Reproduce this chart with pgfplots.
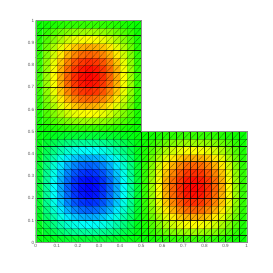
\documentclass[border=0pt]{standalone}
\usepackage{fontspec}
\setmainfont{Liberation Sans}
\usepackage{pgfplots}
\usepackage{pgfplotstable}
\pgfplotsset{compat=1.18}
\pgfplotstableread[row sep=\\]{
i j c\\
0 0 0.011\\1 0 0.032\\2 0 0.053\\3 0 0.070\\4 0 0.085\\5 0 0.096\\6 0 0.103\\7 0 0.105\\8 0 0.103\\9 0 0.096\\10 0 0.085\\11 0 0.070\\12 0 0.053\\13 0 0.032\\14 0 0.011\\
0 1 0.032\\1 1 0.095\\2 1 0.155\\3 1 0.207\\4 1 0.250\\5 1 0.282\\6 1 0.302\\7 1 0.309\\8 1 0.302\\9 1 0.282\\10 1 0.250\\11 1 0.207\\12 1 0.155\\13 1 0.095\\14 1 0.032\\
0 2 0.053\\1 2 0.155\\2 2 0.250\\3 2 0.335\\4 2 0.405\\5 2 0.457\\6 2 0.489\\7 2 0.500\\8 2 0.489\\9 2 0.457\\10 2 0.405\\11 2 0.335\\12 2 0.250\\13 2 0.155\\14 2 0.053\\
0 3 0.070\\1 3 0.207\\2 3 0.335\\3 3 0.448\\4 3 0.541\\5 3 0.611\\6 3 0.654\\7 3 0.669\\8 3 0.654\\9 3 0.611\\10 3 0.541\\11 3 0.448\\12 3 0.335\\13 3 0.207\\14 3 0.070\\
0 4 0.085\\1 4 0.250\\2 4 0.405\\3 4 0.541\\4 4 0.654\\5 4 0.739\\6 4 0.791\\7 4 0.809\\8 4 0.791\\9 4 0.739\\10 4 0.654\\11 4 0.541\\12 4 0.405\\13 4 0.250\\14 4 0.085\\
0 5 0.096\\1 5 0.282\\2 5 0.457\\3 5 0.611\\4 5 0.739\\5 5 0.835\\6 5 0.894\\7 5 0.914\\8 5 0.894\\9 5 0.835\\10 5 0.739\\11 5 0.611\\12 5 0.457\\13 5 0.282\\14 5 0.096\\
0 6 0.103\\1 6 0.302\\2 6 0.489\\3 6 0.654\\4 6 0.791\\5 6 0.894\\6 6 0.956\\7 6 0.978\\8 6 0.956\\9 6 0.894\\10 6 0.791\\11 6 0.654\\12 6 0.489\\13 6 0.302\\14 6 0.103\\
0 7 0.105\\1 7 0.309\\2 7 0.500\\3 7 0.669\\4 7 0.809\\5 7 0.914\\6 7 0.978\\7 7 1.000\\8 7 0.978\\9 7 0.914\\10 7 0.809\\11 7 0.669\\12 7 0.500\\13 7 0.309\\14 7 0.105\\
0 8 0.103\\1 8 0.302\\2 8 0.489\\3 8 0.654\\4 8 0.791\\5 8 0.894\\6 8 0.956\\7 8 0.978\\8 8 0.956\\9 8 0.894\\10 8 0.791\\11 8 0.654\\12 8 0.489\\13 8 0.302\\14 8 0.103\\
0 9 0.096\\1 9 0.282\\2 9 0.457\\3 9 0.611\\4 9 0.739\\5 9 0.835\\6 9 0.894\\7 9 0.914\\8 9 0.894\\9 9 0.835\\10 9 0.739\\11 9 0.611\\12 9 0.457\\13 9 0.282\\14 9 0.096\\
0 10 0.085\\1 10 0.250\\2 10 0.405\\3 10 0.541\\4 10 0.654\\5 10 0.739\\6 10 0.791\\7 10 0.809\\8 10 0.791\\9 10 0.739\\10 10 0.654\\11 10 0.541\\12 10 0.405\\13 10 0.250\\14 10 0.085\\
0 11 0.070\\1 11 0.207\\2 11 0.335\\3 11 0.448\\4 11 0.541\\5 11 0.611\\6 11 0.654\\7 11 0.669\\8 11 0.654\\9 11 0.611\\10 11 0.541\\11 11 0.448\\12 11 0.335\\13 11 0.207\\14 11 0.070\\
0 12 0.053\\1 12 0.155\\2 12 0.250\\3 12 0.335\\4 12 0.405\\5 12 0.457\\6 12 0.489\\7 12 0.500\\8 12 0.489\\9 12 0.457\\10 12 0.405\\11 12 0.335\\12 12 0.250\\13 12 0.155\\14 12 0.053\\
0 13 0.032\\1 13 0.095\\2 13 0.155\\3 13 0.207\\4 13 0.250\\5 13 0.282\\6 13 0.302\\7 13 0.309\\8 13 0.302\\9 13 0.282\\10 13 0.250\\11 13 0.207\\12 13 0.155\\13 13 0.095\\14 13 0.032\\
0 14 0.011\\1 14 0.032\\2 14 0.053\\3 14 0.070\\4 14 0.085\\5 14 0.096\\6 14 0.103\\7 14 0.105\\8 14 0.103\\9 14 0.096\\10 14 0.085\\11 14 0.070\\12 14 0.053\\13 14 0.032\\14 14 0.011\\
}\cells
\begin{document}
\begin{tikzpicture}[x=1bp,y=1bp]
\path (0,0) rectangle (273,273);
\begin{axis}[
  at={(35.7bp,30.3bp)}, anchor=south west, scale only axis,
  width=211bp, height=222bp,
  xmin=0, xmax=30, ymin=0, ymax=30,
  xtick={0,3,...,30}, ytick={0,3,...,30},
  xticklabels={0,0.1,0.2,0.3,0.4,0.5,0.6,0.7,0.8,0.9,1},
  yticklabels={0,0.1,0.2,0.3,0.4,0.5,0.6,0.7,0.8,0.9,1},
  tick label style={font=\fontsize{4.6}{5}\selectfont, text=black!65},
  xticklabel style={yshift=2pt}, yticklabel style={xshift=2pt},
  major tick length=0pt,
  axis line style={draw=none},
  unbounded coords=jump,
  colormap={bcgyr}{rgb255(0)=(0,0,255) rgb255(1)=(0,255,255) rgb255(2)=(0,255,0) rgb255(3)=(255,255,0) rgb255(4)=(255,0,0)},
  point meta min=-1, point meta max=1,
  clip=false,
]
% the three squares of the L
\addplot[matrix plot*, mesh/cols=15, point meta=-\thisrow{c}] table[x expr=\thisrow{i}+0.5, y expr=\thisrow{j}+0.5] {\cells};
\addplot[matrix plot*, mesh/cols=15, point meta=\thisrow{c}] table[x expr=\thisrow{i}+15.5, y expr=\thisrow{j}+0.5] {\cells};
\addplot[matrix plot*, mesh/cols=15, point meta=\thisrow{c}] table[x expr=\thisrow{i}+0.5, y expr=\thisrow{j}+15.5] {\cells};
% diagonals
\addplot[black, line width=0.3bp, opacity=0.5, no markers] coordinates {
(0,15)(15,30)(nan,nan)(0,16)(14,30)(nan,nan)(0,17)(13,30)(nan,nan)(0,18)(12,30)(nan,nan)(0,19)(11,30)(nan,nan)(0,20)(10,30)(nan,nan)(0,21)(9,30)(nan,nan)(0,22)(8,30)(nan,nan)(0,23)(7,30)(nan,nan)(0,24)(6,30)(nan,nan)(0,25)(5,30)(nan,nan)(0,26)(4,30)(nan,nan)(0,27)(3,30)(nan,nan)(0,28)(2,30)(nan,nan)(0,29)(1,30)(nan,nan)
(1,15)(15,29)(nan,nan)(2,15)(15,28)(nan,nan)(3,15)(15,27)(nan,nan)(4,15)(15,26)(nan,nan)(5,15)(15,25)(nan,nan)(6,15)(15,24)(nan,nan)(7,15)(15,23)(nan,nan)(8,15)(15,22)(nan,nan)(9,15)(15,21)(nan,nan)(10,15)(15,20)(nan,nan)(11,15)(15,19)(nan,nan)(12,15)(15,18)(nan,nan)(13,15)(15,17)(nan,nan)(14,15)(15,16)(nan,nan)
(15,0)(30,15)(nan,nan)(15,1)(29,15)(nan,nan)(15,2)(28,15)(nan,nan)(15,3)(27,15)(nan,nan)(15,4)(26,15)(nan,nan)(15,5)(25,15)(nan,nan)(15,6)(24,15)(nan,nan)(15,7)(23,15)(nan,nan)(15,8)(22,15)(nan,nan)(15,9)(21,15)(nan,nan)(15,10)(20,15)(nan,nan)(15,11)(19,15)(nan,nan)(15,12)(18,15)(nan,nan)(15,13)(17,15)(nan,nan)(15,14)(16,15)(nan,nan)
(16,0)(30,14)(nan,nan)(17,0)(30,13)(nan,nan)(18,0)(30,12)(nan,nan)(19,0)(30,11)(nan,nan)(20,0)(30,10)(nan,nan)(21,0)(30,9)(nan,nan)(22,0)(30,8)(nan,nan)(23,0)(30,7)(nan,nan)(24,0)(30,6)(nan,nan)(25,0)(30,5)(nan,nan)(26,0)(30,4)(nan,nan)(27,0)(30,3)(nan,nan)(28,0)(30,2)(nan,nan)(29,0)(30,1)(nan,nan)
(0,1)(1,0)(nan,nan)(0,2)(2,0)(nan,nan)(0,3)(3,0)(nan,nan)(0,4)(4,0)(nan,nan)(0,5)(5,0)(nan,nan)(0,6)(6,0)(nan,nan)(0,7)(7,0)(nan,nan)(0,8)(8,0)(nan,nan)(0,9)(9,0)(nan,nan)(0,10)(10,0)(nan,nan)(0,11)(11,0)(nan,nan)(0,12)(12,0)(nan,nan)(0,13)(13,0)(nan,nan)(0,14)(14,0)(nan,nan)
(1,14)(14,1)(nan,nan)(2,14)(14,2)(nan,nan)(3,14)(14,3)(nan,nan)(4,14)(14,4)(nan,nan)(5,14)(14,5)(nan,nan)(6,14)(14,6)(nan,nan)(7,14)(14,7)(nan,nan)(8,14)(14,8)(nan,nan)(9,14)(14,9)(nan,nan)(10,14)(14,10)(nan,nan)(11,14)(14,11)(nan,nan)(12,14)(14,12)(nan,nan)(13,14)(14,13)(nan,nan)
(0,14)(1,15)(nan,nan)(1,14)(2,15)(nan,nan)(2,14)(3,15)(nan,nan)(3,14)(4,15)(nan,nan)(4,14)(5,15)(nan,nan)(5,14)(6,15)(nan,nan)(6,14)(7,15)(nan,nan)(7,14)(8,15)(nan,nan)(8,14)(9,15)(nan,nan)(9,14)(10,15)(nan,nan)(10,14)(11,15)(nan,nan)(11,14)(12,15)(nan,nan)(12,14)(13,15)(nan,nan)(13,14)(14,15)(nan,nan)(14,14)(15,15)(nan,nan)
(14,0)(15,1)(nan,nan)(14,1)(15,2)(nan,nan)(14,2)(15,3)(nan,nan)(14,3)(15,4)(nan,nan)(14,4)(15,5)(nan,nan)(14,5)(15,6)(nan,nan)(14,6)(15,7)(nan,nan)(14,7)(15,8)(nan,nan)(14,8)(15,9)(nan,nan)(14,9)(15,10)(nan,nan)(14,10)(15,11)(nan,nan)(14,11)(15,12)(nan,nan)(14,12)(15,13)(nan,nan)(14,13)(15,14)
};
% faint horizontals
\addplot[black, line width=0.3bp, opacity=0.3, no markers] coordinates {
(0,2)(30,2)(nan,nan)(0,4)(30,4)(nan,nan)(0,5)(30,5)(nan,nan)(0,7)(30,7)(nan,nan)(0,9)(30,9)(nan,nan)(0,10)(30,10)(nan,nan)(0,12)(30,12)(nan,nan)(0,14)(30,14)(nan,nan)
(0,17)(15,17)(nan,nan)(0,19)(15,19)(nan,nan)(0,20)(15,20)(nan,nan)(0,22)(15,22)(nan,nan)(0,24)(15,24)(nan,nan)(0,25)(15,25)(nan,nan)(0,27)(15,27)(nan,nan)(0,29)(15,29)
};
% strong horizontals
\addplot[black, line width=0.5bp, opacity=0.8, no markers] coordinates {
(0,1)(30,1)(nan,nan)(0,3)(30,3)(nan,nan)(0,6)(30,6)(nan,nan)(0,8)(30,8)(nan,nan)(0,11)(30,11)(nan,nan)(0,13)(30,13)(nan,nan)
(0,15)(15,15)(nan,nan)
(0,16)(15,16)(nan,nan)(0,18)(15,18)(nan,nan)(0,21)(15,21)(nan,nan)(0,23)(15,23)(nan,nan)(0,26)(15,26)(nan,nan)(0,28)(15,28)
};
% faint verticals, left column
\addplot[black, line width=0.3bp, opacity=0.18, no markers] coordinates {
(1,0)(1,30)(nan,nan)(2,0)(2,30)(nan,nan)(3,0)(3,30)(nan,nan)(4,0)(4,30)(nan,nan)(5,0)(5,30)(nan,nan)(6,0)(6,30)(nan,nan)(7,0)(7,30)(nan,nan)(8,0)(8,30)(nan,nan)(9,0)(9,30)(nan,nan)(10,0)(10,30)(nan,nan)(11,0)(11,30)(nan,nan)(12,0)(12,30)(nan,nan)(13,0)(13,30)(nan,nan)(14,0)(14,30)
};
% strong verticals, right square
\addplot[black, line width=0.45bp, opacity=0.75, no markers] coordinates {
(15,0)(15,15)(nan,nan)(16,0)(16,15)(nan,nan)(17,0)(17,15)(nan,nan)(18,0)(18,15)(nan,nan)(19,0)(19,15)(nan,nan)(20,0)(20,15)(nan,nan)(21,0)(21,15)(nan,nan)(22,0)(22,15)(nan,nan)(23,0)(23,15)(nan,nan)(24,0)(24,15)(nan,nan)(25,0)(25,15)(nan,nan)(26,0)(26,15)(nan,nan)(27,0)(27,15)(nan,nan)(28,0)(28,15)(nan,nan)(29,0)(29,15)
};
% outline of the L
\addplot[black!45, line width=0.4bp, no markers] coordinates {(0,0)(30,0)(30,15)(15,15)(15,30)(0,30)(0,0)};
\end{axis}
\end{tikzpicture}
\end{document}
